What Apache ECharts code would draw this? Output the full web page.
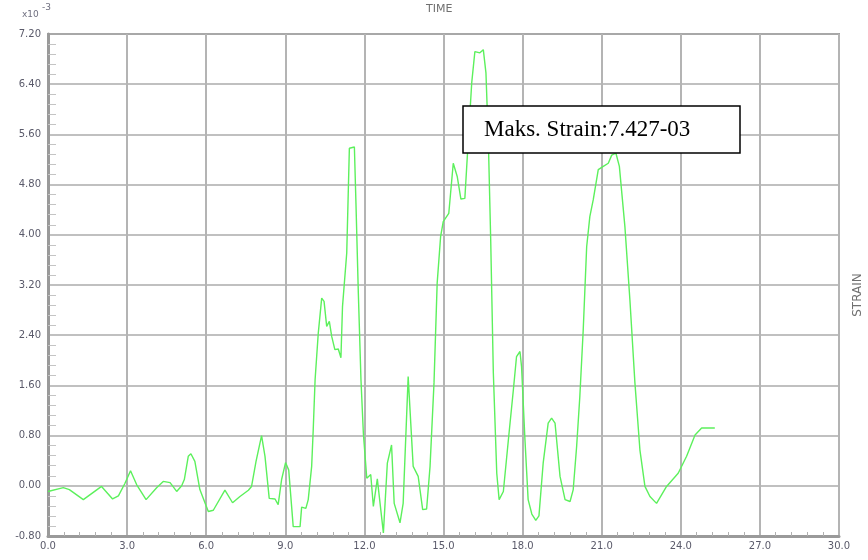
<!DOCTYPE html>
<html>
<head>
<meta charset="utf-8">
<script src="https://cdn.jsdelivr.net/npm/echarts@6/dist/echarts.min.js"></script>
<style>html,body{margin:0;padding:0;background:#fff}#c{width:868px;height:560px}</style>
</head>
<body>
<div id="c"></div>
<script>
// time (s)
var times = [0, 0.58, 0.81, 1.34, 2.03, 2.45, 2.67, 2.92, 3.13, 3.36, 3.72, 4.12, 4.37, 4.63, 4.88, 5.07, 5.17, 5.32, 5.42, 5.57, 5.76, 6.08, 6.27, 6.71, 7.0, 7.28, 7.6, 7.72, 7.89, 8.1, 8.23, 8.39, 8.61, 8.73, 8.86, 9.01, 9.13, 9.3, 9.37, 9.56, 9.62, 9.78, 9.87, 10.0, 10.06, 10.13, 10.25, 10.38, 10.47, 10.57, 10.67, 10.76, 10.88, 11.01, 11.11, 11.17, 11.33, 11.43, 11.62, 11.68, 11.77, 11.87, 11.96, 12.09, 12.24, 12.34, 12.49, 12.56, 12.72, 12.87, 13.03, 13.13, 13.35, 13.47, 13.66, 13.73, 13.85, 14.04, 14.21, 14.36, 14.49, 14.64, 14.76, 14.89, 14.99, 15.2, 15.37, 15.52, 15.66, 15.81, 15.94, 16.07, 16.19, 16.38, 16.51, 16.61, 16.7, 16.79, 16.89, 17.02, 17.11, 17.27, 17.46, 17.65, 17.77, 17.9, 17.96, 18.09, 18.21, 18.35, 18.5, 18.62, 18.78, 18.97, 19.1, 19.23, 19.42, 19.61, 19.8, 19.92, 20.05, 20.17, 20.3, 20.43, 20.55, 20.68, 20.87, 21.06, 21.25, 21.38, 21.54, 21.67, 21.88, 22.07, 22.26, 22.45, 22.64, 22.83, 23.08, 23.46, 23.9, 24.22, 24.54, 24.79, 25.29];
// strain (x10^-3)
var strain = [-0.09, -0.03, -0.06, -0.22, -0.01, -0.21, -0.16, 0.04, 0.24, 0.02, -0.22, -0.03, 0.07, 0.05, -0.09, 0.0, 0.1, 0.47, 0.51, 0.39, -0.06, -0.41, -0.39, -0.07, -0.27, -0.17, -0.07, -0.01, 0.39, 0.80, 0.47, -0.2, -0.21, -0.30, 0.1, 0.37, 0.25, -0.65, -0.67, -0.65, -0.34, -0.36, -0.22, 0.31, 0.90, 1.69, 2.43, 2.99, 2.94, 2.54, 2.62, 2.38, 2.17, 2.18, 2.04, 2.86, 3.71, 5.38, 5.40, 4.5, 3.07, 1.69, 0.84, 0.12, 0.18, -0.33, 0.11, 0.10, -0.75, 0.36, 0.65, -0.28, -0.59, -0.28, 1.74, 1.77, 0.31, 0.15, -0.38, -0.37, 0.31, 1.64, 3.23, 3.97, 4.21, 4.34, 5.14, 4.93, 4.57, 4.58, 5.51, 6.42, 6.92, 6.90, 6.95, 6.58, 5.51, 3.92, 1.80, 0.20, -0.22, -0.09, 0.73, 1.53, 2.06, 2.14, 1.90, 0.73, -0.22, -0.45, -0.55, -0.48, 0.36, 1.0, 1.08, 1.0, 0.15, -0.22, -0.25, -0.06, 0.63, 1.42, 2.49, 3.81, 4.29, 4.56, 5.04, 5.09, 5.14, 5.27, 5.30, 5.09, 4.13, 2.96, 1.64, 0.57, -0.01, -0.17, -0.28, -0.01, 0.2, 0.47, 0.81, 0.92, 0.92];
var xTicks = ['0.0','3.0','6.0','9.0','12.0','15.0','18.0','21.0','24.0','27.0','30.0'];
var yTicks = ['-0.80','0.00','0.80','1.60','2.40','3.20','4.00','4.80','5.60','6.40','7.20'];
var xTitle = 'TIME';
var yTitle = 'STRAIN';
var annotation = 'Maks. Strain:7.427-03';

var pts = times.map(function (t, i) { return [t, strain[i]]; });
var chart = echarts.init(document.getElementById('c'), null, {renderer: 'canvas'});
var labFont = {color: '#5a5a6a', fontSize: 10, fontFamily: 'DejaVu Sans'};
chart.setOption({
  animation: false,
  backgroundColor: '#fff',
  grid: {left: 48, top: 34, right: 29, bottom: 24, show: true, borderColor: '#a0a0a0', borderWidth: 2},
  xAxis: {
    type: 'value', min: 0, max: 30, interval: 3,
    axisLine: {show: true, onZero: false, lineStyle: {color: '#9a9a9a', width: 3}},
    axisTick: {show: false, inside: true},
    minorTick: {show: true, splitNumber: 5, length: 4, lineStyle: {color: '#b0b0b0', width: 1}},
    splitLine: {show: true, lineStyle: {color: '#b4b4b4', width: 2}},
    axisLabel: Object.assign({margin: 5, formatter: function (v) { return xTicks[Math.round(v / 3)]; }}, labFont)
  },
  yAxis: {
    type: 'value', min: -0.8, max: 7.2, interval: 0.8,
    axisLine: {show: true, onZero: false, lineStyle: {color: '#9a9a9a', width: 3}},
    axisTick: {show: false, inside: true},
    minorTick: {show: true, splitNumber: 5, length: 8, lineStyle: {color: '#c4c4c4', width: 1}},
    splitLine: {show: true, lineStyle: {color: '#ababab', width: 1.5}},
    axisLabel: Object.assign({margin: 7, formatter: function (v) { return yTicks[Math.round((v + 0.8) / 0.8)]; }}, labFont)
  },
  series: [{
    type: 'line', data: pts, showSymbol: false, symbol: 'none',
    lineStyle: {color: '#5cf05c', width: 1.4}
  }],
  graphic: [
    {type: 'text', left: 426, top: 4, style: {text: xTitle, fill: '#707070', font: '11px "DejaVu Sans"'}},
    {type: 'text', x: 858, y: 295, rotation: Math.PI / 2, style: {text: yTitle, fill: '#707070', font: '12px "DejaVu Sans"', align: 'center', verticalAlign: 'middle'}},
    {type: 'text', left: 22, top: 10, style: {text: 'x10', fill: '#707080', font: '9px "DejaVu Sans"'}},
    {type: 'text', left: 42, top: 3, style: {text: '-3', fill: '#707080', font: '9px "DejaVu Sans"'}},
    {type: 'rect', shape: {x: 463, y: 106, width: 277, height: 47}, style: {fill: '#fff', stroke: '#000', lineWidth: 1.5}, z: 100},
    {type: 'text', x: 484, y: 130, z: 101, style: {text: annotation, fill: '#000', font: '23px "Liberation Serif"', verticalAlign: 'middle'}}
  ]
});
</script>
</body>
</html>
